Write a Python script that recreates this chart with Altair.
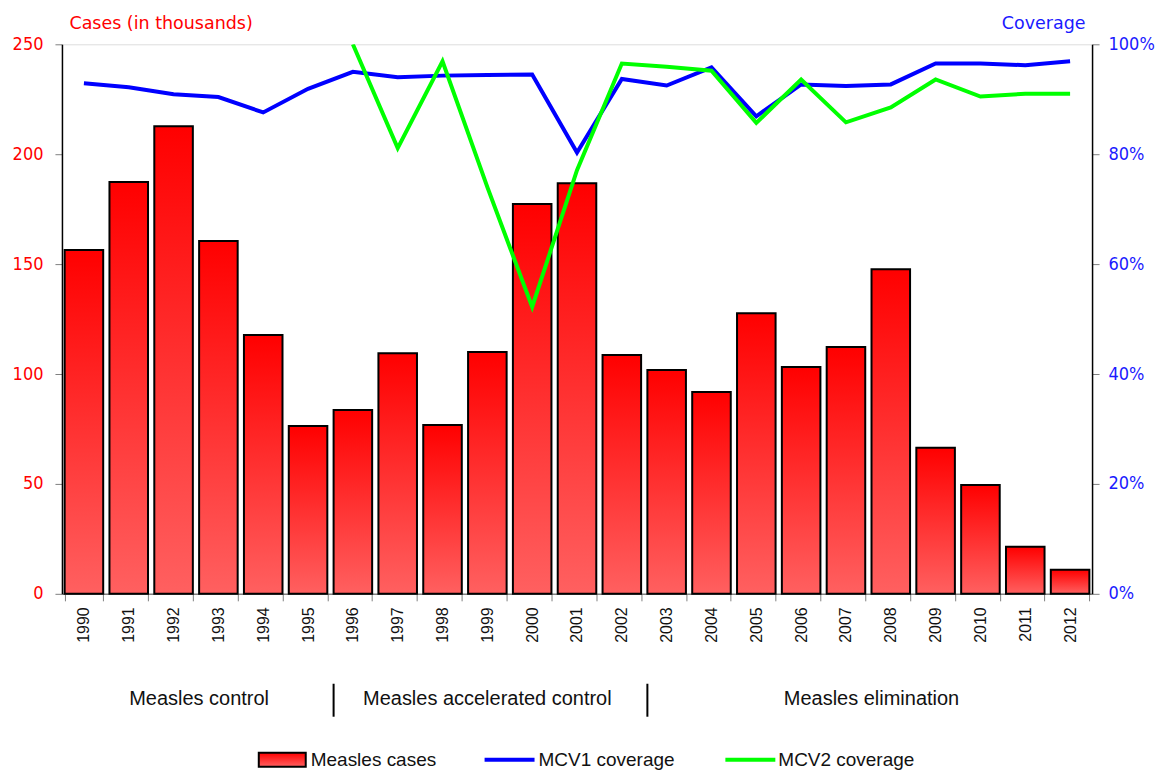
import altair as alt
import pandas as pd

years = [str(y) for y in range(1990, 2013)]
cases = [156.4, 187.3, 212.7, 160.5, 117.7, 76.4, 83.6, 109.5, 76.8, 110.0, 177.3, 186.8,
         108.6, 101.8, 91.8, 127.7, 103.2, 112.3, 147.7, 66.4, 49.5, 21.4, 10.9]
mcv1 = [92.9, 92.2, 90.9, 90.4, 87.6, 91.9, 95.0, 94.0, 94.3, 94.4, 94.5, 80.3,
        93.7, 92.5, 95.8, 86.9, 92.7, 92.4, 92.7, 96.5, 96.5, 96.2, 96.9]
mcv2_years = [str(y) for y in range(1996, 2013)]
mcv2 = [100.0, 81.1, 96.9, 74.0, 52.2, 77.1, 96.5, 95.9, 95.2, 85.7, 93.6, 85.8,
        88.5, 93.6, 90.5, 91.0, 91.0]

phase_names = ["Measles control", "Measles accelerated control", "Measles elimination"]
phase_anchor = ["1993", "1999", "2008"]
phase_band = [0.0, 0.5, 0.0]
boundary_years = ["1996", "2003"]

legend_labels = ["Measles cases", "MCV1 coverage", "MCV2 coverage"]

bars_df = pd.DataFrame({"year": years, "cases": cases})
mcv1_df = pd.DataFrame({"year": years, "cov": [v / 100 for v in mcv1]})
mcv2_df = pd.DataFrame({"year": mcv2_years, "cov": [v / 100 for v in mcv2]})

W, H = 1031, 550
LABEL_FONT = "DejaVu Sans Condensed, DejaVu Sans"
TITLE_FONT = "DejaVu Sans"
TEXT_FONT = "Liberation Sans, Arial"

xscale = alt.Scale(domain=years, paddingInner=0.14, paddingOuter=0.06)
xaxis = alt.Axis(title=None, labelAngle=270, labelFont=TEXT_FONT, labelFontSize=16,
                 labelColor="#111111", labelPadding=6, tickBand="extent",
                 domainColor="#808080", tickColor="#808080", tickSize=7, domainWidth=1.5)

grad = alt.Gradient(gradient="linear", x1=0, x2=0, y1=0, y2=1,
                    stops=[alt.GradientStop(color="#ff0000", offset=0),
                           alt.GradientStop(color="#ff6060", offset=1)])

bars = alt.Chart(bars_df).mark_bar(fill=grad, stroke="#000000", strokeWidth=2).encode(
    x=alt.X("year:O", scale=xscale, axis=xaxis, sort=years),
    y=alt.Y("cases:Q", scale=alt.Scale(domain=[0, 250], nice=False),
            axis=alt.Axis(title="Cases (in thousands)", titleAngle=0, titleAlign="left",
                          titleBaseline="alphabetic", titleX=7, titleY=-16,
                          titleColor="#ff0000", titleFont=TITLE_FONT, titleFontSize=17.5,
                          titleFontWeight="normal",
                          values=[0, 50, 100, 150, 200, 250], labelColor="#ff0000",
                          labelFont=LABEL_FONT, labelFontSize=18, labelPadding=12,
                          tickColor="#808080", tickSize=7, domainColor="#000000",
                          domainWidth=1.5, grid=False)),
)

cov_axis = alt.Axis(title="Coverage", titleAngle=0, titleAlign="right",
                    titleBaseline="alphabetic", titleX=-7, titleY=-16,
                    titleColor="#1a1aff", titleFont=TITLE_FONT, titleFontSize=17.5,
                    titleFontWeight="normal", orient="right",
                    values=[0, 0.2, 0.4, 0.6, 0.8, 1.0], format=".0%",
                    labelColor="#1a1aff", labelFont=LABEL_FONT, labelFontSize=18,
                    labelPadding=9, tickColor="#808080", tickSize=7,
                    domainColor="#000000", domainWidth=1.5, grid=False)
cov_scale = alt.Scale(domain=[0, 1], nice=False)

line1 = alt.Chart(mcv1_df).mark_line(color="#0000ff", strokeWidth=4).encode(
    x=alt.X("year:O", sort=years),
    y=alt.Y("cov:Q", scale=cov_scale, axis=cov_axis),
)
line2 = alt.Chart(mcv2_df).mark_line(color="#00ff00", strokeWidth=4, clip=True).encode(
    x=alt.X("year:O", sort=years),
    y=alt.Y("cov:Q", scale=cov_scale, axis=cov_axis),
)
lines = alt.layer(line1, line2)

main = alt.layer(bars, lines).resolve_scale(y="independent")

phase_layers = []
for n, yv, b in zip(phase_names, phase_anchor, phase_band):
    phase_layers.append(
        alt.Chart(pd.DataFrame({"name": [n], "year": [yv]})).mark_text(
            font=TEXT_FONT, fontSize=20, color="#111111", align="center",
            baseline="alphabetic").encode(
            x=alt.X("year:O", sort=years, bandPosition=b),
            y=alt.value(661), text="name:N")
    )
sep = alt.Chart(pd.DataFrame({"year": boundary_years})).mark_rule(
    color="#000000", strokeWidth=2).encode(
    x=alt.X("year:O", sort=years, bandPosition=0),
    y=alt.value(640), y2=alt.value(673))

# legend
leg_y = 716
leg_rect = alt.Chart(pd.DataFrame({"k": [legend_labels[0]]})).mark_rect(
    fill=grad, stroke="#000000", strokeWidth=2).encode(
    x=alt.value(197), x2=alt.value(244), y=alt.value(leg_y - 7), y2=alt.value(leg_y + 7))
leg_l1 = alt.Chart(pd.DataFrame({"k": [legend_labels[1]]})).mark_rule(
    color="#0000ff", strokeWidth=4).encode(
    x=alt.value(423), x2=alt.value(473), y=alt.value(leg_y))
leg_l2 = alt.Chart(pd.DataFrame({"k": [legend_labels[2]]})).mark_rule(
    color="#00ff00", strokeWidth=4).encode(
    x=alt.value(664), x2=alt.value(714), y=alt.value(leg_y))
leg_texts = []
for lab, px in zip(legend_labels, [249, 477, 717]):
    leg_texts.append(
        alt.Chart(pd.DataFrame({"label": [lab]})).mark_text(
            font=TEXT_FONT, fontSize=19, color="#111111", align="left",
            baseline="middle").encode(x=alt.value(px), y=alt.value(leg_y), text="label:N"))

chart = alt.layer(main, sep, *phase_layers, leg_rect, leg_l1, leg_l2, *leg_texts).properties(
    width=W, height=H,
    padding={"left": 4, "top": 6, "right": 0, "bottom": 0},
).configure_view(stroke="#808080", strokeWidth=1.5).configure(background="white")

chart.save("out.html", embed_options={"renderer": "svg", "actions": False})
